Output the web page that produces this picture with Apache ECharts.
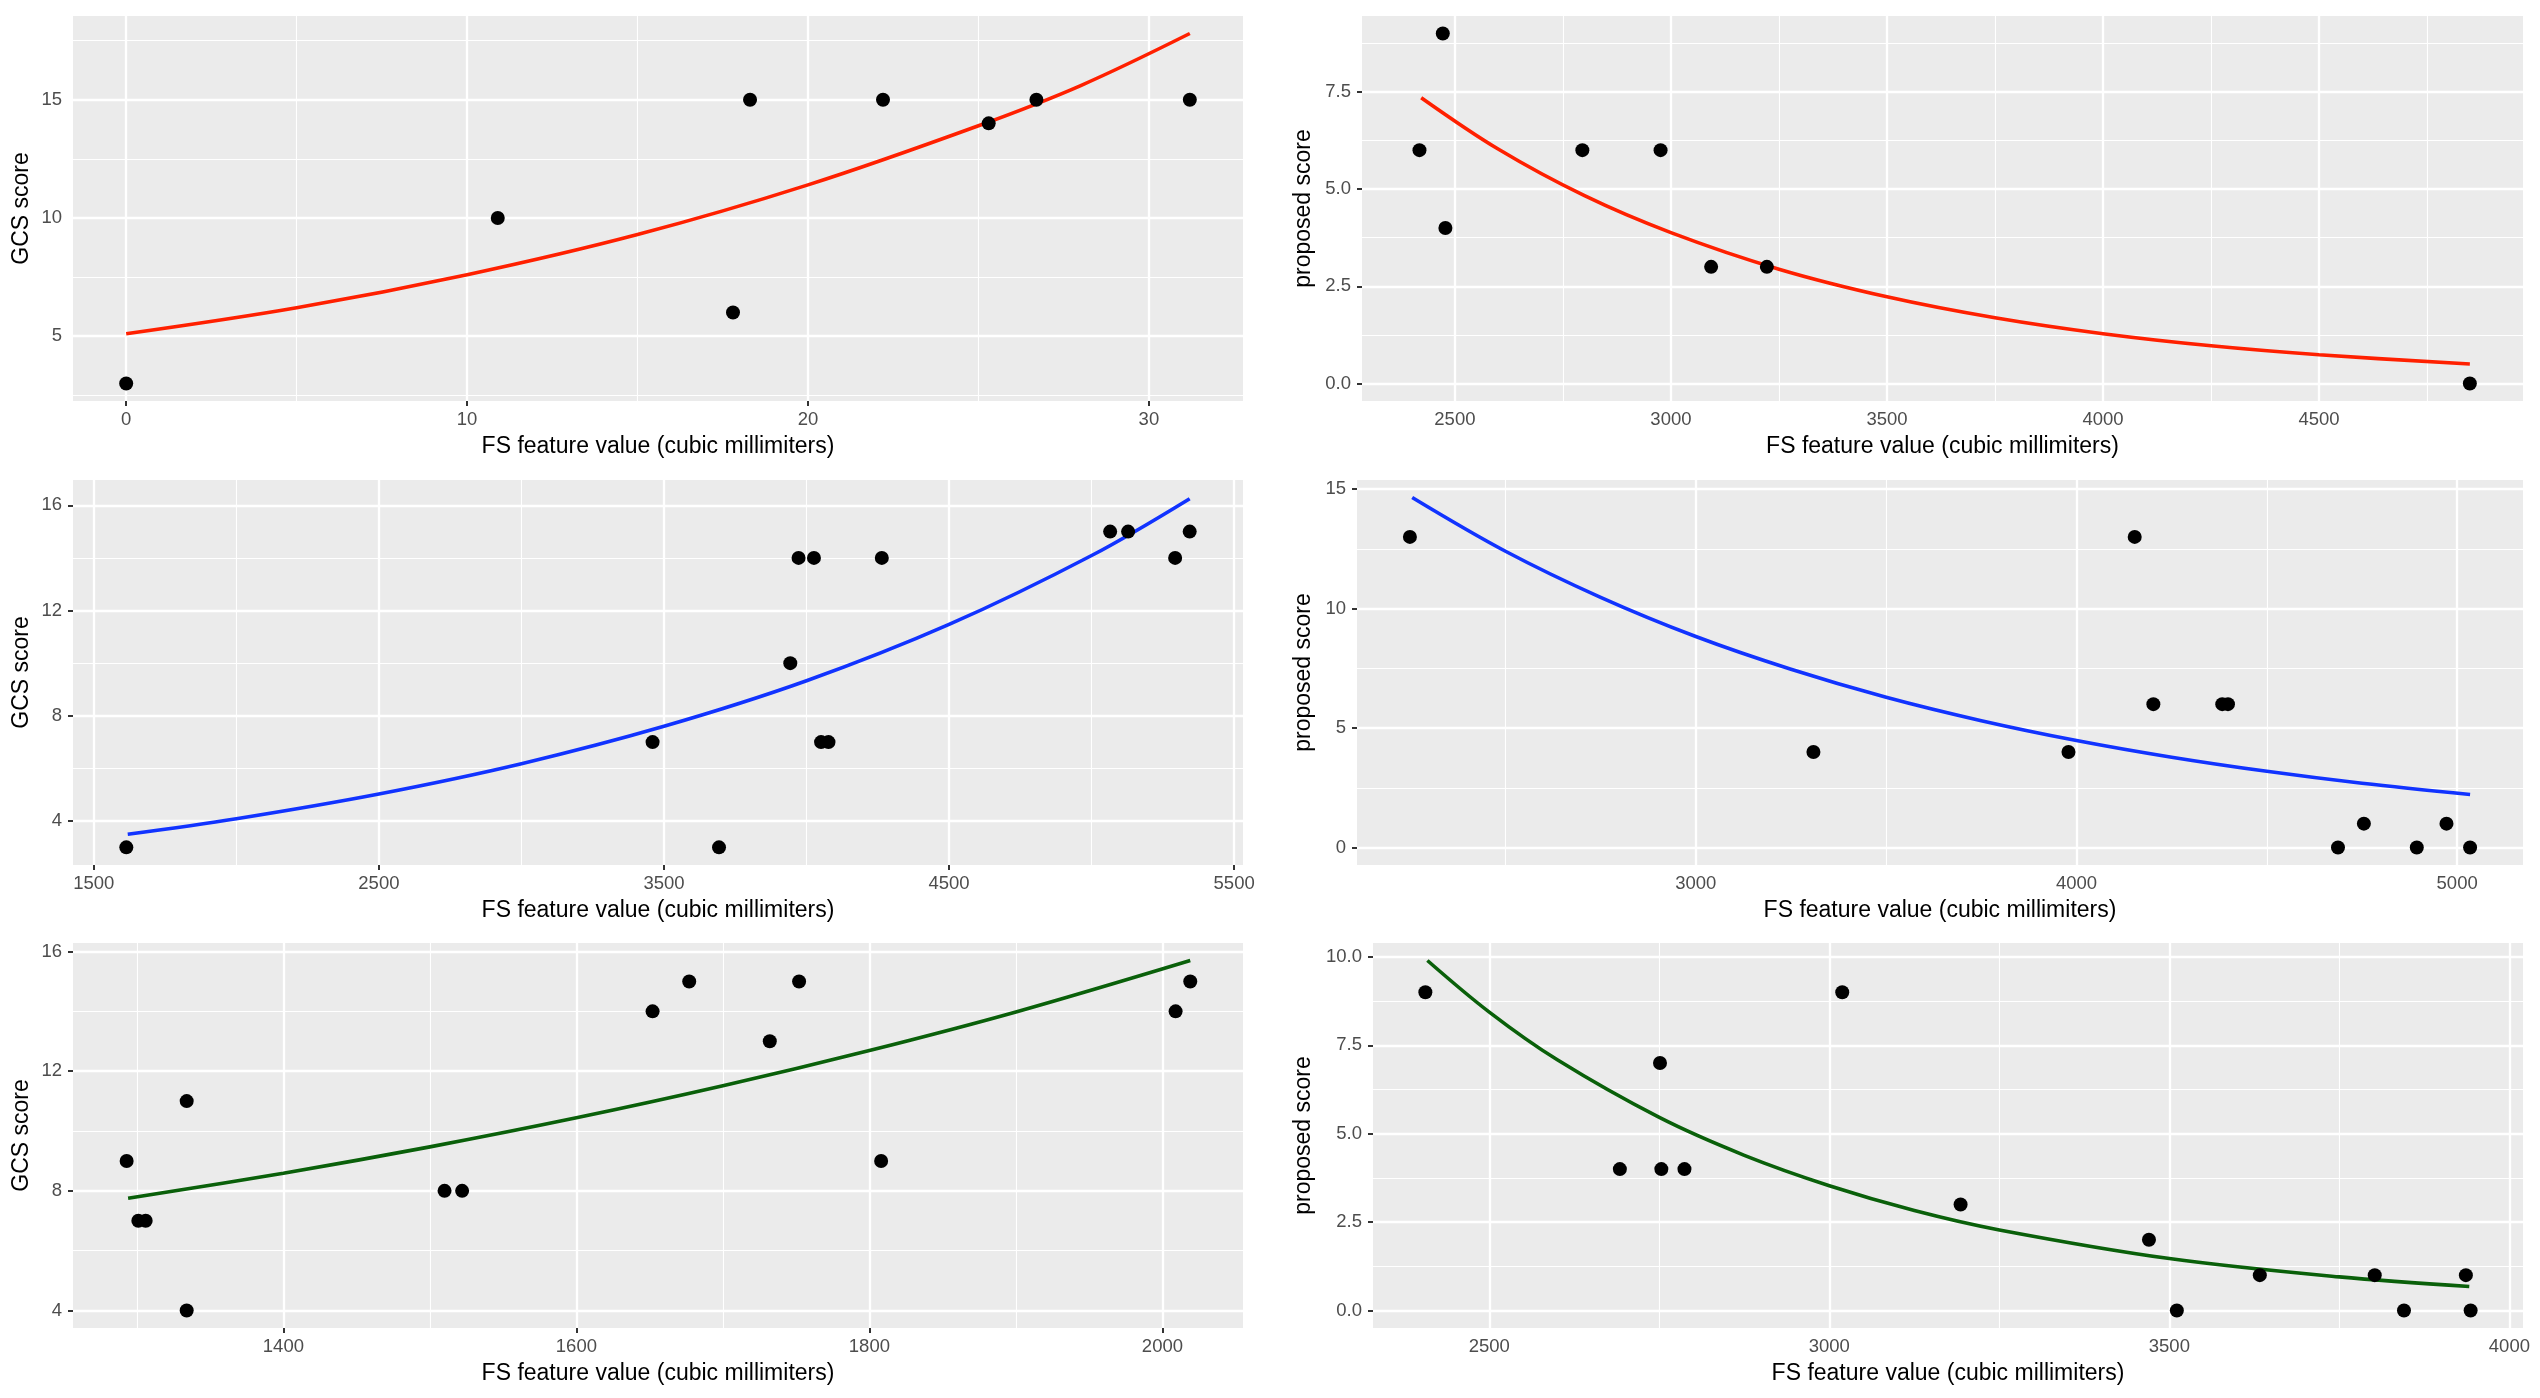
<!DOCTYPE html>
<html><head><meta charset="utf-8">
<script src="https://cdn.jsdelivr.net/npm/echarts@6/dist/echarts.min.js"></script>
<style>html,body{margin:0;padding:0;background:#fff}#c{width:2540px;height:1398px}</style>
</head><body><div id="c"></div>
<script>
// ---------- data ----------
// Panel 1 (top left)
const p1X = [0, 10.9, 17.8, 18.3, 22.2, 25.3, 26.7, 31.2];
const p1Y = [3, 10, 6, 15, 15, 14, 15, 15];
const fit1X = [0, 5, 10, 15, 20, 25, 28, 31.2];
const fit1Y = [5.1, 6.2, 7.6, 9.3, 11.4, 13.9, 15.6, 17.8];
const p1XTicks = [0, 10, 20, 30];
const p1XMinor = [5, 15, 25];
const p1YTicks = [5, 10, 15];
const p1YMinor = [2.5, 7.5, 12.5, 17.5];

// Panel 2 (top right)
const p2X = [2418, 2472, 2478, 2795, 2976, 3093, 3222, 4849];
const p2Y = [6, 9, 4, 6, 6, 3, 3, 0];
const fit2X = [2422, 2600, 2800, 3000, 3250, 3500, 3750, 4000, 4250, 4500, 4849];
const fit2Y = [7.35, 6.03, 4.83, 3.88, 2.94, 2.23, 1.69, 1.28, 0.97, 0.74, 0.5];
const p2XTicks = [2500, 3000, 3500, 4000, 4500];
const p2XMinor = [2750, 3250, 3750, 4250, 4750];
const p2YTicks = [0, 2.5, 5, 7.5];
const p2YMinor = [1.25, 3.75, 6.25, 8.75];

// Panel 3 (middle left)
const p3X = [1614, 3460, 3693, 3943, 3972, 4026, 4051, 4077, 4264, 5065, 5128, 5293, 5344];
const p3Y = [3, 7, 3, 10, 14, 14, 7, 7, 14, 15, 15, 14, 15];
const fit3X = [1619, 2000, 2500, 3000, 3500, 4000, 4500, 5000, 5344];
const fit3Y = [3.5, 4.09, 5.03, 6.18, 7.6, 9.33, 11.47, 14.09, 16.25];
const p3XTicks = [1500, 2500, 3500, 4500, 5500];
const p3XMinor = [2000, 3000, 4000, 5000];
const p3YTicks = [4, 8, 12, 16];
const p3YMinor = [6, 10, 14];

// Panel 4 (middle right)
const p4X = [2249, 3309, 3979, 4153, 4202, 4383, 4398, 4687, 4755, 4894, 4972, 5034];
const p4Y = [13, 4, 4, 13, 6, 6, 6, 0, 1, 0, 1, 0];
const fit4X = [2255, 2500, 2750, 3000, 3250, 3500, 3750, 4000, 4250, 4500, 4750, 5034];
const fit4Y = [14.65, 12.40, 10.47, 8.83, 7.46, 6.29, 5.31, 4.48, 3.78, 3.19, 2.69, 2.22];
const p4XTicks = [3000, 4000, 5000];
const p4XMinor = [2500, 3500, 4500];
const p4YTicks = [0, 5, 10, 15];
const p4YMinor = [2.5, 7.5, 12.5];

// Panel 5 (bottom left)
const p5X = [1293, 1301, 1306, 1334, 1334, 1510, 1522, 1652, 1677, 1732, 1752, 1808, 2009, 2019];
const p5Y = [9, 7, 7, 11, 4, 8, 8, 14, 15, 13, 15, 9, 14, 15];
const fit5X = [1294, 1400, 1500, 1600, 1700, 1800, 1900, 2019];
const fit5Y = [7.75, 8.59, 9.47, 10.44, 11.51, 12.69, 13.98, 15.7];
const p5XTicks = [1400, 1600, 1800, 2000];
const p5XMinor = [1300, 1500, 1700, 1900];
const p5YTicks = [4, 8, 12, 16];
const p5YMinor = [6, 10, 14];

// Panel 6 (bottom right)
const p6X = [2406, 2692, 2751, 2753, 2787, 3019, 3193, 3470, 3511, 3633, 3802, 3845, 3936, 3943];
const p6Y = [9, 4, 7, 4, 4, 9, 3, 2, 0, 1, 1, 0, 1, 0];
const fit6X = [2409, 2500, 2600, 2750, 2875, 3000, 3125, 3250, 3500, 3750, 3941];
const fit6Y = [9.9, 8.44, 7.09, 5.46, 4.39, 3.53, 2.83, 2.28, 1.47, 0.95, 0.68];
const p6XTicks = [2500, 3000, 3500, 4000];
const p6XMinor = [2750, 3250, 3750];
const p6YTicks = [0, 2.5, 5, 7.5, 10];
const p6YMinor = [1.25, 3.75, 6.25, 8.75];

const xTitle = 'FS feature value (cubic millimiters)';
const yTitleL = 'GCS score';
const yTitleR = 'proposed score';

// ---------- layout / styling ----------
const F = 'Liberation Sans, Arial, Helvetica, sans-serif';
const RED = '#FF2000', BLUE = '#1133FF', GREEN = '#0A600A';

const panels = [
  {x:p1X, y:p1Y, fx:fit1X, fy:fit1Y, col:RED,   xr:[-1.56, 32.76], yr:[2.26, 18.54], xt:p1XTicks, xm:p1XMinor, yt:p1YTicks, ym:p1YMinor, yn:yTitleL, dec:0, left:73,   top:16,  w:1170, h:385, ng:40},
  {x:p2X, y:p2Y, fx:fit2X, fy:fit2Y, col:RED,   xr:[2285, 4972],   yr:[-0.45, 9.45], xt:p2XTicks, xm:p2XMinor, yt:p2YTicks, ym:p2YMinor, yn:yTitleR, dec:1, left:1362, top:16,  w:1161, h:385, ng:47},
  {x:p3X, y:p3Y, fx:fit3X, fy:fit3Y, col:BLUE,  xr:[1427, 5531],   yr:[2.33, 16.96], xt:p3XTicks, xm:p3XMinor, yt:p3YTicks, ym:p3YMinor, yn:yTitleL, dec:0, left:73,   top:480, w:1170, h:385, ng:40},
  {x:p4X, y:p4Y, fx:fit4X, fy:fit4Y, col:BLUE,  xr:[2110, 5173],   yr:[-0.73, 15.38], xt:p4XTicks, xm:p4XMinor, yt:p4YTicks, ym:p4YMinor, yn:yTitleR, dec:0, left:1357, top:480, w:1166, h:385, ng:42},
  {x:p5X, y:p5Y, fx:fit5X, fy:fit5Y, col:GREEN, xr:[1256.4, 2055], yr:[3.415, 16.285], xt:p5XTicks, xm:p5XMinor, yt:p5YTicks, ym:p5YMinor, yn:yTitleL, dec:0, left:73,   top:943, w:1170, h:385, ng:40},
  {x:p6X, y:p6Y, fx:fit6X, fy:fit6Y, col:GREEN, xr:[2329, 4020],   yr:[-0.495, 10.395], xt:p6XTicks, xm:p6XMinor, yt:p6YTicks, ym:p6YMinor, yn:yTitleR, dec:1, left:1373, top:943, w:1150, h:385, ng:58}
];

const grids = [], xAxes = [], yAxes = [], series = [];
const gl = (key, v, major) => ({[key]: v, lineStyle: {color: '#FFFFFF', width: major ? 2.3 : 1.1, type: 'solid'}});

panels.forEach((p, i) => {
  grids.push({left: p.left, top: p.top, width: p.w, height: p.h, show: true,
    backgroundColor: '#EBEBEB', borderWidth: 0, containLabel: false});
  xAxes.push({type: 'value', gridIndex: i, min: p.xr[0], max: p.xr[1],
    name: xTitle, nameLocation: 'middle', nameGap: 34,
    nameTextStyle: {color: '#000', fontSize: 23, fontFamily: F},
    axisLine: {show: false},
    axisTick: {show: true, customValues: p.xt, length: 5, lineStyle: {color: '#333333', width: 2}},
    axisLabel: {customValues: p.xt, color: '#4D4D4D', fontSize: 18.5, fontFamily: F, margin: 9,
      formatter: v => String(v)},
    splitLine: {show: false}});
  yAxes.push({type: 'value', gridIndex: i, min: p.yr[0], max: p.yr[1],
    name: p.yn, nameLocation: 'middle', nameGap: p.ng,
    nameTextStyle: {color: '#000', fontSize: 23, fontFamily: F},
    axisLine: {show: false},
    axisTick: {show: true, customValues: p.yt, length: 5, lineStyle: {color: '#333333', width: 2}},
    axisLabel: {customValues: p.yt, color: '#4D4D4D', fontSize: 18.5, fontFamily: F, margin: 11,
      formatter: v => p.dec ? Number(v).toFixed(p.dec) : String(v)},
    splitLine: {show: false}});
  const lines = [];
  p.xm.forEach(v => lines.push(gl('xAxis', v, false)));
  p.ym.forEach(v => lines.push(gl('yAxis', v, false)));
  p.xt.forEach(v => lines.push(gl('xAxis', v, true)));
  p.yt.forEach(v => lines.push(gl('yAxis', v, true)));
  series.push({type: 'line', xAxisIndex: i, yAxisIndex: i, data: [], z: 1, silent: true,
    markLine: {z: 1, silent: true, symbol: ['none', 'none'], animation: false, label: {show: false},
      emphasis: {disabled: true}, data: lines}});
  series.push({type: 'line', xAxisIndex: i, yAxisIndex: i, z: 3, silent: true,
    data: p.fx.map((x, k) => [x, p.fy[k]]), smooth: 0.35,
    symbol: 'none', showSymbol: false, lineStyle: {color: p.col, width: 3.6}});
  series.push({type: 'scatter', xAxisIndex: i, yAxisIndex: i, z: 4, silent: true,
    data: p.x.map((x, k) => [x, p.y[k]]), symbolSize: 14, itemStyle: {color: '#000000', opacity: 1}});
});

const chart = echarts.init(document.getElementById('c'), null, {renderer: 'canvas'});
chart.setOption({animation: false, backgroundColor: '#FFFFFF', grid: grids, xAxis: xAxes, yAxis: yAxes, series: series});
</script></body></html>
